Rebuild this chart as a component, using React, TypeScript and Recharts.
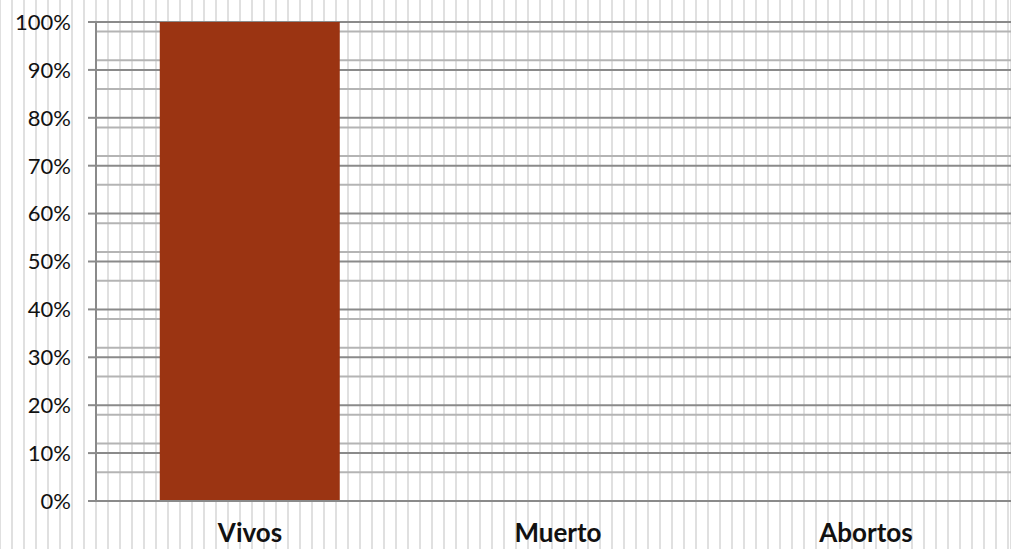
import React from "react"
import { BarChart, Bar, XAxis, YAxis, CartesianGrid } from "recharts"

const categories = ["Vivos", "Muerto", "Abortos"]
const shares = [1, 0, 0]
const majorTicks = [0, 0.1, 0.2, 0.3, 0.4, 0.5, 0.6, 0.7, 0.8, 0.9, 1]
const minorTicks = [
  0.02, 0.04, 0.06, 0.08, 0.12, 0.14, 0.16, 0.18, 0.22, 0.24, 0.26, 0.28,
  0.32, 0.34, 0.36, 0.38, 0.42, 0.44, 0.46, 0.48, 0.52, 0.54, 0.56, 0.58,
  0.62, 0.64, 0.66, 0.68, 0.72, 0.74, 0.76, 0.78, 0.82, 0.84, 0.86, 0.88,
  0.92, 0.94, 0.96, 0.98,
]

const data = categories.map((name, i) => ({ name, value: shares[i] }))

const pct = (v: number) => `${Math.round(v * 100)}%`

export default function App() {
  return (
    <div
      style={{
        position: "absolute",
        left: 0,
        top: 0,
        width: 1011,
        height: 549,
        overflow: "hidden",
        backgroundColor: "#fff",
        backgroundImage: "repeating-linear-gradient(to right, #e0e0e0 0px, #e0e0e0 2px, transparent 2px, transparent 12px)",
        backgroundPosition: "-1px 0",
        fontFamily: "Lato, sans-serif",
      }}
    >
      {/* plot area runs a little past the right edge, like the sheet crop */}
      <BarChart
        width={1020}
        height={549}
        data={data}
        margin={{ top: 22, right: 0, left: 0, bottom: 0 }}
        barCategoryGap="20.7%"
      >
        <CartesianGrid vertical={false} horizontalValues={minorTicks} stroke="#b4b4b4" strokeWidth={2} />
        <CartesianGrid vertical={false} horizontalValues={majorTicks} stroke="#8a8a8a" strokeWidth={2} />
        <XAxis
          dataKey="name"
          height={48}
          tickLine={false}
          axisLine={{ stroke: "#8a8a8a", strokeWidth: 2 }}
          tick={{ fill: "#111", fontSize: 26, fontWeight: 700 }}
          tickMargin={17}
        />
        <YAxis
          width={96}
          domain={[0, 1]}
          ticks={majorTicks}
          tickFormatter={pct}
          tickSize={8}
          tickMargin={17}
          stroke="#8a8a8a"
          axisLine={{ stroke: "#8a8a8a", strokeWidth: 2 }}
          tickLine={{ stroke: "#8a8a8a", strokeWidth: 2 }}
          tick={{ fill: "#111", fontSize: 22 }}
        />
        <Bar dataKey="value" fill="#9b3412" isAnimationActive={false} />
      </BarChart>
    </div>
  )
}
